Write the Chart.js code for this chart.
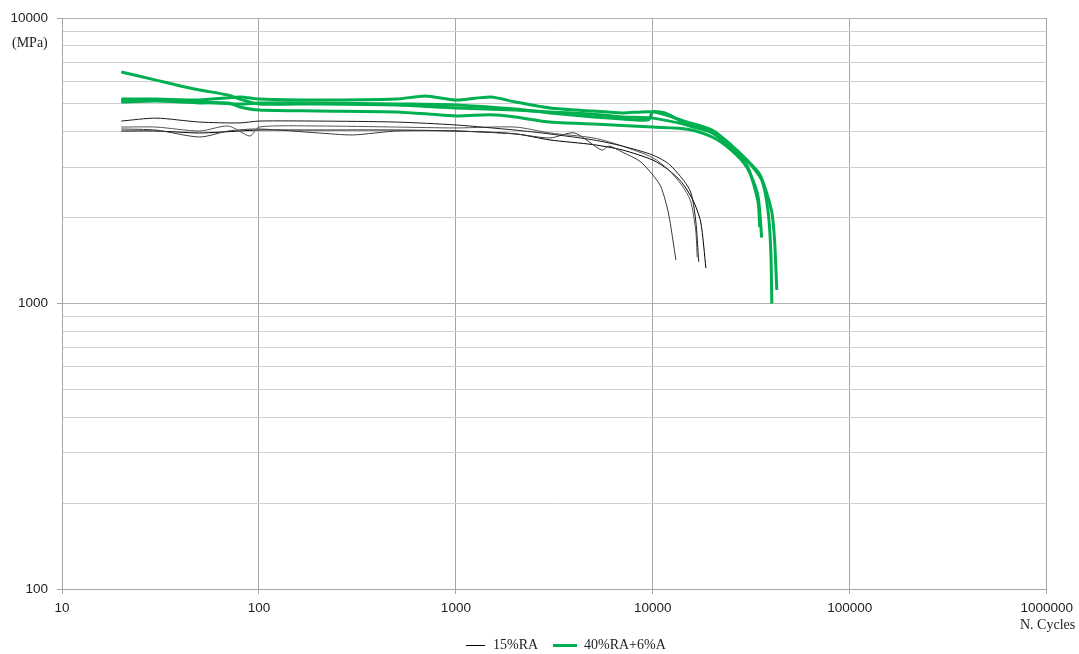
<!DOCTYPE html>
<html>
<head>
<meta charset="utf-8">
<script src="https://cdn.jsdelivr.net/npm/chart.js@4.4.1/dist/chart.umd.min.js"></script>
<style>
  html, body { margin: 0; padding: 0; background: #ffffff; }
  #wrap { position: relative; width: 1079px; height: 654px; overflow: hidden; }
  #c { position: absolute; left: 0; top: 0; }
  .lbl { position: absolute; font-family: "Liberation Serif", "Times New Roman", serif; font-size: 14px; color: #222; white-space: nowrap; line-height: 16px; }
  .sw { position: absolute; }
</style>
</head>
<body>
<div id="wrap">
  <canvas id="c" width="1079" height="654"></canvas>
  <div class="lbl" style="left:12px; top:35px;">(MPa)</div>
  <div class="lbl" style="left:1020px; top:617px;">N. Cycles</div>
  <div class="sw" style="left:466px; top:645px; width:19px; height:1px; background:#000;"></div>
  <div class="lbl" style="left:493px; top:637px;">15%RA</div>
  <div class="sw" style="left:553px; top:644px; width:24px; height:3px; background:#00b050;"></div>
  <div class="lbl" style="left:584px; top:637px;">40%RA+6%A</div>
</div>
<script>
// ---- Data (cycles vs stress in MPa) ----
const seriesNames = ['15%RA', '40%RA+6%A'];

const xTickValues = [10, 100, 1000, 10000, 100000, 1000000];
const xTickLabels = ['10', '100', '1000', '10000', '100000', '1000000'];
const yTickValues = [100, 200, 300, 400, 500, 600, 700, 800, 900,
                     1000, 2000, 3000, 4000, 5000, 6000, 7000, 8000, 9000, 10000];
const yTickLabels = ['100', '1000', '10000'];

// 15%RA specimens
const ra15a_cycles = [20, 30, 50, 80, 100, 200, 500, 1000, 2000, 3000, 5000, 7000, 10000, 12200, 15400, 16500, 17100];
const ra15a_mpa    = [4355, 4460, 4320, 4290, 4355, 4355, 4320, 4220, 4050, 3925, 3740, 3560, 3310, 3060, 2500, 1960, 1400];

const ra15b_cycles = [20, 30, 50, 70, 90, 100, 200, 500, 1000, 2000, 3000, 5000, 7000, 10000, 12000, 14000, 15500, 16500, 16800];
const ra15b_mpa    = [4150, 4150, 4020, 4185, 3860, 4150, 4185, 4150, 4120, 4150, 3957, 3800, 3560, 3240, 2940, 2600, 2300, 1810, 1450];

const ra15c_cycles = [20, 30, 50, 70, 100, 200, 300, 500, 1000, 2000, 3000, 4000, 5500, 6000, 7000, 8600, 10000, 11000, 12000, 13100];
const ra15c_mpa    = [4085, 4050, 3830, 4020, 4085, 3957, 3894, 4020, 4020, 3925, 3800, 3957, 3446, 3560, 3390, 3150, 2820, 2560, 2075, 1420];

const ra15d_cycles = [20, 30, 50, 80, 100, 200, 500, 1000, 2000, 3000, 5000, 7000, 10000, 12000, 14000, 16000, 17500, 18600];
const ra15d_mpa    = [4020, 4020, 3957, 4020, 4050, 4050, 4050, 4020, 3930, 3740, 3600, 3450, 3180, 2940, 2660, 2300, 1930, 1330];

// 40%RA+6%A specimens
const ra40a_cycles = [20, 30, 50, 80, 100, 200, 500, 700, 1000, 1500, 2000, 3000, 5000, 7000, 10000, 15000, 20000, 25000, 30000, 35700, 38400, 39700, 40200];
const ra40a_mpa    = [5200, 5200, 5160, 5290, 5200, 5160, 5200, 5330, 5160, 5290, 5080, 4840, 4720, 4650, 4690, 4320, 4050, 3590, 3180, 2707, 2125, 1540, 1000];

const ra40b_cycles = [20, 30, 50, 80, 100, 200, 500, 1000, 2000, 3000, 5000, 7000, 9500, 10000, 12000, 15000, 20000, 25000, 30000, 34100, 34900];
const ra40b_mpa    = [5120, 5160, 5080, 5000, 5040, 5040, 5000, 4960, 4800, 4650, 4500, 4430, 4400, 4700, 4600, 4218, 3957, 3502, 3058, 2300, 1850];

const ra40c_cycles = [20, 30, 50, 70, 80, 100, 200, 500, 1000, 1500, 2000, 3000, 5000, 7000, 10000, 15000, 20000, 25000, 30000, 34100, 35700];
const ra40c_mpa    = [5080, 5120, 5040, 5040, 4880, 4760, 4725, 4690, 4540, 4580, 4500, 4320, 4250, 4200, 4150, 4080, 3830, 3445, 3000, 2400, 1700];

const ra40d_cycles = [20, 30, 40, 50, 70, 80, 100, 200, 500, 1000, 2000, 3000, 5000, 7000, 10000, 15000, 20000, 25000, 30000, 35000, 40000, 41500, 42600];
const ra40d_mpa    = [6470, 6060, 5780, 5595, 5370, 5200, 5000, 5000, 4960, 4840, 4760, 4690, 4600, 4500, 4460, 4220, 3990, 3530, 3180, 2820, 2125, 1670, 1115];

// ---- Build datasets ----
function pts(xs, ys) { return xs.map((x, i) => ({ x: x, y: ys[i] })); }
const blackStyle = (col) => ({ borderColor: col, borderWidth: 1, pointRadius: 0, tension: 0.25, fill: false });
const greenStyle = { borderColor: '#00b050', borderWidth: 3, pointRadius: 0, tension: 0.25, fill: false };

const datasets = [
  Object.assign({ label: seriesNames[0], data: pts(ra15a_cycles, ra15a_mpa) }, blackStyle('#1a1a1a')),
  Object.assign({ label: seriesNames[0], data: pts(ra15b_cycles, ra15b_mpa) }, blackStyle('#555555')),
  Object.assign({ label: seriesNames[0], data: pts(ra15c_cycles, ra15c_mpa) }, blackStyle('#3a3a3a')),
  Object.assign({ label: seriesNames[0], data: pts(ra15d_cycles, ra15d_mpa) }, blackStyle('#000000')),
  Object.assign({ label: seriesNames[1], data: pts(ra40a_cycles, ra40a_mpa) }, greenStyle),
  Object.assign({ label: seriesNames[1], data: pts(ra40b_cycles, ra40b_mpa) }, greenStyle),
  Object.assign({ label: seriesNames[1], data: pts(ra40c_cycles, ra40c_mpa) }, greenStyle),
  Object.assign({ label: seriesNames[1], data: pts(ra40d_cycles, ra40d_mpa) }, greenStyle)
];

const tickFont = { family: '"Liberation Sans", Arial, sans-serif', size: 13.5 };
const isDecade = v => Math.abs(Math.log10(v) - Math.round(Math.log10(v))) < 1e-9;

new Chart(document.getElementById('c'), {
  type: 'line',
  data: { datasets: datasets },
  options: {
    responsive: false,
    animation: false,
    layout: { padding: { top: 18, right: 32, bottom: 0, left: 0 } },
    plugins: { legend: { display: false }, tooltip: { enabled: false } },
    scales: {
      x: {
        type: 'logarithmic',
        min: 10, max: 1000000,
        afterBuildTicks: s => { s.ticks = xTickValues.map(v => ({ value: v })); },
        afterFit: s => { s.height = 65; },
        ticks: {
          autoSkip: false, maxRotation: 0, padding: 6, color: '#222', font: tickFont,
          callback: v => { const i = xTickValues.indexOf(v); return i >= 0 ? xTickLabels[i] : ''; }
        },
        grid: { color: '#a6a6a6', lineWidth: 1, tickLength: 5, tickColor: '#a6a6a6' },
        border: { display: true, color: '#a6a6a6' }
      },
      y: {
        type: 'logarithmic',
        min: 100, max: 10000,
        afterBuildTicks: s => { s.ticks = yTickValues.map(v => ({ value: v })); },
        afterFit: s => { s.width = 62; },
        ticks: {
          autoSkip: false, padding: 9, color: '#222', font: tickFont,
          callback: v => (isDecade(v) && yTickLabels.indexOf(String(v)) >= 0) ? String(v) : ''
        },
        grid: {
          color: ctx => (ctx.tick && isDecade(ctx.tick.value)) ? '#b0b0b0' : '#cfcfcf',
          lineWidth: 1, tickLength: 5,
          tickColor: ctx => (ctx.tick && isDecade(ctx.tick.value)) ? '#a6a6a6' : 'rgba(0,0,0,0)'
        },
        border: { display: true, color: '#a6a6a6' }
      }
    }
  }
});
</script>
</body>
</html>
